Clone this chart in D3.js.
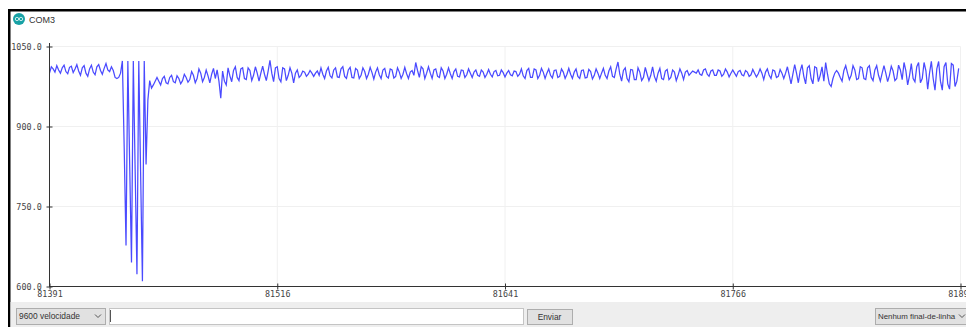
<!DOCTYPE html>
<html>
<head>
<meta charset="utf-8">
<script src="https://cdn.jsdelivr.net/npm/d3@7"></script>
<style>
html, body { margin: 0; padding: 0; background: #fff; overflow: hidden; }
svg { display: block; }
.ui { font-family: "Liberation Sans", sans-serif; font-size: 8.4px; fill: #333; }
.tick text { font-family: "DejaVu Sans Mono", monospace; font-size: 8.4px; letter-spacing: 0.1px; fill: #444; }
</style>
</head>
<body>
<script>
const portName = "COM3";
const baudLabel = "9600 velocidade";
const sendLabel = "Enviar";
const lineEndLabel = "Nenhum final-de-linha";

const firstSample = 81391; //First sample shown on the plotter.
const xTicks = [81391, 81516, 81641, 81766, 81891];
const yTicks = [600, 750, 900, 1050];

//Sensor readings in order, one per sample.
const valuesStart = [
  1000,1012,1008,1002, 1014,1006,1000,1010, 1015,1003,999,1011, 1013,1001,1008,1016,
  1004,996,1010,1014, 1000,994,1008,1015, 1002,997,1012,1016, 1005,998,1009,1018,
  1006,1003,1012,1005, 992,990,992,1000
];
const valuesSpikes = [
  1023,860,677, 1023,830,645, 1023,820,623, 1023,815,610, 1023,829, 950,986,972
];
const valuesRecovery = [
  978,985,992,985, 978,990,994,982, 980,992,996,984, 982,995,990,980, 986,998,992,983,
  988,1003,996,982, 990,1008,1000,984, 992,1006,995,982, 998,1009,990,
  1006,985,953,1004,985,978,
  1010,995,984,1005, 1012,992,986,1008, 1010,990,988,1010, 1005,986,996,1012,
  1000,985,1000,1013, 998,986,1004
];
const valuesFlatA = [
  1024,1000,984,1010, 1012,990,984,1010, 1008,986,996,1010, 1000,982,1000,1006,992,
  996,1004,1002,994,998,1005,1000,994,1000,1004,996,
  1010,998,990,1004, 1011,995,991,1006, 1010,993,992,1008, 1012,994,990,1006,
  1011,992,991,1009, 1006,990,996,1010, 1003,990,998,1011, 1001,989,1002,1010,
  997,990,1006,1009, 994,991,1008,1006, 991,994,1010,1002, 990,998,1011,999,
  990,1002,1005,996
];
const valuesFlatB = [
  1020,1005,992,1012, 1008,990,1000,1012, 1000,990,1006,1008, 994,992,1010,1004,
  990,998,1010,999, 990,1003,1008,994, 993,1006,1005,992, 997,1008,1000,992,
  1002,1006,996,994, 1006,1002,992,998, 1007,998,993,1003, 1005,995,996,1006,
  1001,993,1000,1005, 997,995,1004,1003, 994,998,
  1008,995,990,1005, 1009,992,992,1008, 1006,990,996,1009, 1002,990,1000,1008,
  996,991,1005,1006, 992,994,1008,1002, 990,998,1009,998, 990,1002,1008,994,
  990,1005,1006,991, 992,1007,1003,989, 996,1008,1000,990, 1000,1009,996,990,
  1004,1012,994,992, 1008,1021,998
];
const valuesFlatC = [
  985,1005,1010,990, 984,1007,1006,988, 988,1010,1002,986, 992,1011,998,986,
  996,1012,994,985, 1000,1009,990,988, 1004,1007,988,992, 1006,1002,986,996,
  1008,1000,988,1002, 1005,996,
  1000,1004,1002,1000, 1006,998,996,1006, 1008,998,994,1004, 1006,996,996,1006,
  1004,994,998,1008, 1002,993,1000,1006, 1000,994,1003,1005, 997,995,1005,1002,
  994,997,1007,1000, 993,999
];
const valuesEnd = [
  1008,1000,988,1002, 1008,996,990,1006, 1004,992,994,1007, 1000,990,1000,1012,
  996,980,998,1016, 1000,982,1004,1016, 994,980,1010,1014, 990,980,1012,1010,
  984,996,1012,985, 1020,998,980,
  975,990,1000,1005, 1000,992,985,1005, 1014,1000,988,996, 1014,1006,988,990,
  1012,1010,990,988, 1010,1014,992,986, 1006,1014,996,985, 1000,1014,1000,984,
  996,1013,1004,986, 990,1015,1006,
  988,1020,1005,978, 995,1018,990,984, 1012,1020,982,990, 1020,1005,970,1000,
  1022,990,968,1008, 1022,985,968,1012, 1020,980,970,1018, 1015,975,985,1009
];

const readings = [].concat(valuesStart, valuesSpikes, valuesRecovery, valuesFlatA, valuesFlatB, valuesFlatC, valuesEnd);

const svgWidth = 966;
const svgHeight = 327;

const xScale = d3.scaleLinear().domain([81391, 81891]).range([49.5, 960.5]);
const yScale = d3.scaleLinear().domain([600, 1050]).range([286.5, 46.5]);

const svg = d3.select("body").append("svg")
  .attr("width", svgWidth)
  .attr("height", svgHeight);

//Window frame.
svg.append("rect").attr("x", 8).attr("y", 9).attr("width", svgWidth - 8).attr("height", 2.5).attr("fill", "#000");
svg.append("rect").attr("x", 8).attr("y", 9).attr("width", 2.5).attr("height", svgHeight - 9).attr("fill", "#000");

//Title bar.
const icon = svg.append("g").attr("transform", "translate(19,19)");
icon.append("circle").attr("r", 6).attr("fill", "#17a1a5");
icon.append("circle").attr("cx", -2).attr("r", 1.7).attr("fill", "none").attr("stroke", "#d8f0f0").attr("stroke-width", 0.9);
icon.append("circle").attr("cx", 2).attr("r", 1.7).attr("fill", "none").attr("stroke", "#d8f0f0").attr("stroke-width", 0.9);
svg.append("text").attr("class", "ui").attr("x", 29).attr("y", 22.5).style("font-size", "9px").text(portName);

//Grid.
svg.append("g").selectAll("line").data(yTicks).enter().append("line")
  .attr("x1", xScale.range()[0]).attr("x2", xScale.range()[1])
  .attr("y1", d => yScale(d)).attr("y2", d => yScale(d))
  .attr("stroke", "#f0f0f0");
svg.append("g").selectAll("line").data(xTicks).enter().append("line")
  .attr("x1", d => xScale(d)).attr("x2", d => xScale(d))
  .attr("y1", yScale.range()[1]).attr("y2", yScale.range()[0])
  .attr("stroke", "#f0f0f0");

//Signal.
const line = d3.line()
  .x((d, i) => xScale(firstSample + i))
  .y(d => yScale(d));
svg.append("path")
  .attr("d", line(readings))
  .attr("fill", "none")
  .attr("stroke", "#4a4aff")
  .attr("stroke-width", 1.25);

//Axes.
const yAxis = d3.axisLeft(yScale)
  .tickValues(yTicks)
  .tickFormat(d3.format(".1f"))
  .tickSize(3)
  .tickPadding(4);
const yG = svg.append("g").attr("transform", "translate(49.5,0)").call(yAxis);
yG.select(".domain").attr("d", "M0,43V287").attr("stroke", "#333");
yG.selectAll(".tick line").attr("x1", -3).attr("x2", 3).attr("stroke", "#333");
yG.selectAll(".tick text").attr("x", -7.5).attr("dy", "0.4em");

const xAxis = d3.axisBottom(xScale)
  .tickValues(xTicks)
  .tickFormat(d3.format("d"))
  .tickSize(3)
  .tickPadding(3);
const xG = svg.append("g").attr("transform", "translate(0,286.5)").call(xAxis);
xG.select(".domain").attr("d", "M49.5,0H966").attr("stroke", "#333");
xG.selectAll(".tick line").attr("y1", -3).attr("y2", 3).attr("stroke", "#333");
xG.selectAll(".tick text").attr("y", 5).attr("dy", "0.71em");

//Bottom toolbar.
svg.append("rect").attr("x", 10.5).attr("y", 302).attr("width", svgWidth - 10.5).attr("height", 25).attr("fill", "#eeeeee");

function box(x, y, w, h, fill, stroke) {
  svg.append("rect").attr("x", x + 0.5).attr("y", y + 0.5).attr("width", w).attr("height", h)
    .attr("fill", fill).attr("stroke", stroke);
}
function chevron(x, y) {
  svg.append("path").attr("d", "M" + (x - 3) + "," + (y - 1.5) + "L" + x + "," + (y + 1.5) + "L" + (x + 3) + "," + (y - 1.5))
    .attr("fill", "none").attr("stroke", "#555");
}

box(16, 308, 89, 16, "#e1e1e1", "#adadad");
svg.append("text").attr("class", "ui").attr("x", 19).attr("y", 319).text(baudLabel);
chevron(98, 316);

box(109, 308, 414, 16, "#ffffff", "#c4c4c4");
svg.append("line").attr("x1", 110.5).attr("x2", 110.5).attr("y1", 310).attr("y2", 322).attr("stroke", "#555");

box(527, 309, 45, 15, "#e1e1e1", "#adadad");
svg.append("text").attr("class", "ui").attr("x", 549.5).attr("y", 320).attr("text-anchor", "middle").text(sendLabel);

box(875, 308, 92, 16, "#e1e1e1", "#adadad");
svg.append("text").attr("class", "ui").attr("x", 878).attr("y", 319).style("font-size", "7.9px").text(lineEndLabel);
chevron(962, 316);
</script>
</body>
</html>
